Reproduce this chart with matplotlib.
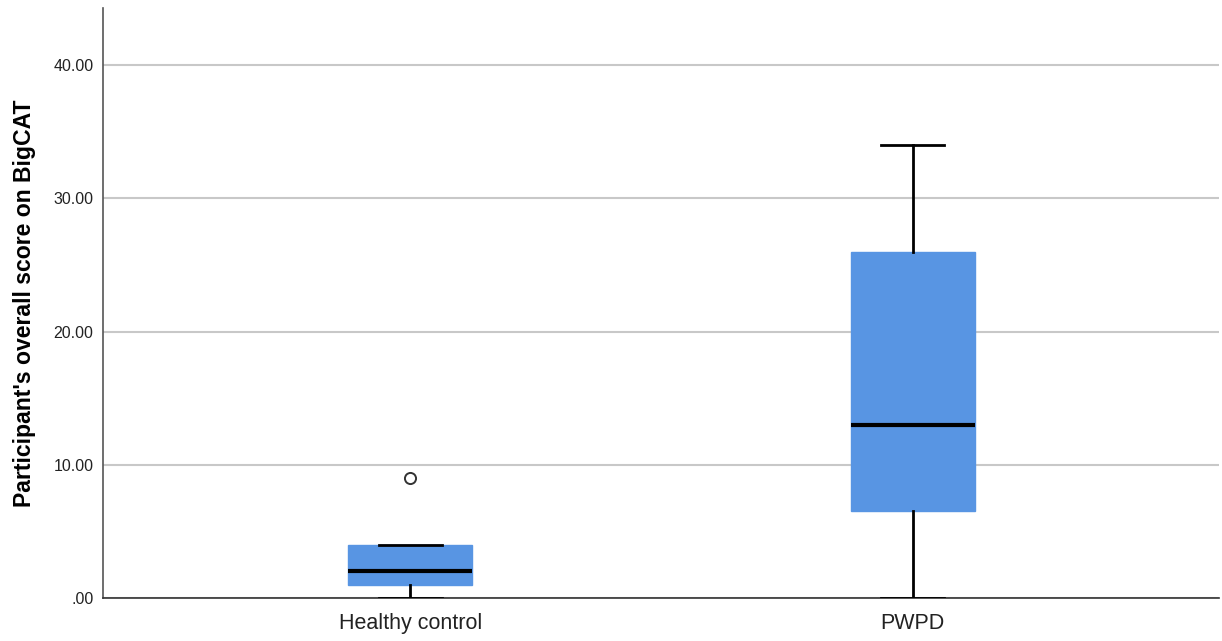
import matplotlib
matplotlib.use("Agg")
import matplotlib.pyplot as plt

plt.rcParams['font.family'] = ['Liberation Sans', 'DejaVu Sans']

# Box-plot summary statistics per group
groups = ["Healthy control", "PWPD"]
whisker_low = [0.0, 0.0]
q1 = [1.0, 6.5]
median = [2.0, 13.0]
q3 = [4.0, 26.0]
whisker_high = [4.0, 34.0]
outliers = [[9.0], []]

y_ticks = [0, 10, 20, 30, 40]
y_tick_labels = [".00", "10.00", "20.00", "30.00", "40.00"]
y_label = "Participant's overall score on BigCAT"

stats = []
for i, g in enumerate(groups):
    stats.append(dict(label=g, whislo=whisker_low[i], q1=q1[i], med=median[i],
                      q3=q3[i], whishi=whisker_high[i], fliers=outliers[i]))

fig = plt.figure(figsize=(12.22, 6.41), dpi=100)
ax = fig.add_axes([0.0843, 0.0671, 0.9132, 0.9204])

box_color = "#5895E3"
ax.bxp(stats, positions=[1, 2], widths=0.247, patch_artist=True,
       showfliers=True,
       boxprops=dict(facecolor=box_color, edgecolor=box_color, linewidth=1),
       medianprops=dict(color="black", linewidth=3),
       whiskerprops=dict(color="black", linewidth=2),
       capprops=dict(color="black", linewidth=2),
       capwidths=0.125,
       flierprops=dict(marker="o", markersize=8, markerfacecolor="white",
                       markeredgecolor="#333333", markeredgewidth=1.4),
       zorder=3)

ax.set_xlim(0.388, 2.61)
ax.set_ylim(0, 44.3)
ax.set_yticks(y_ticks)
ax.set_yticklabels(y_tick_labels, fontsize=11.5, color="#222222")
ax.tick_params(axis="y", length=0, pad=7)
ax.tick_params(axis="x", length=0, pad=11, labelsize=15.5, labelcolor="#222222")

ax.yaxis.grid(True, color="#c8c8c8", linewidth=1.5, zorder=0)
ax.set_axisbelow(True)

for side in ["top", "right"]:
    ax.spines[side].set_visible(False)
ax.spines["left"].set_color("#555555")
ax.spines["left"].set_linewidth(1.2)
ax.spines["bottom"].set_color("#333333")
ax.spines["bottom"].set_linewidth(1.2)

ax.set_ylabel(y_label, fontsize=16.6, fontweight="bold")
ax.yaxis.set_label_coords(-0.060, 0.5)

fig.savefig("out.png", dpi=100)
